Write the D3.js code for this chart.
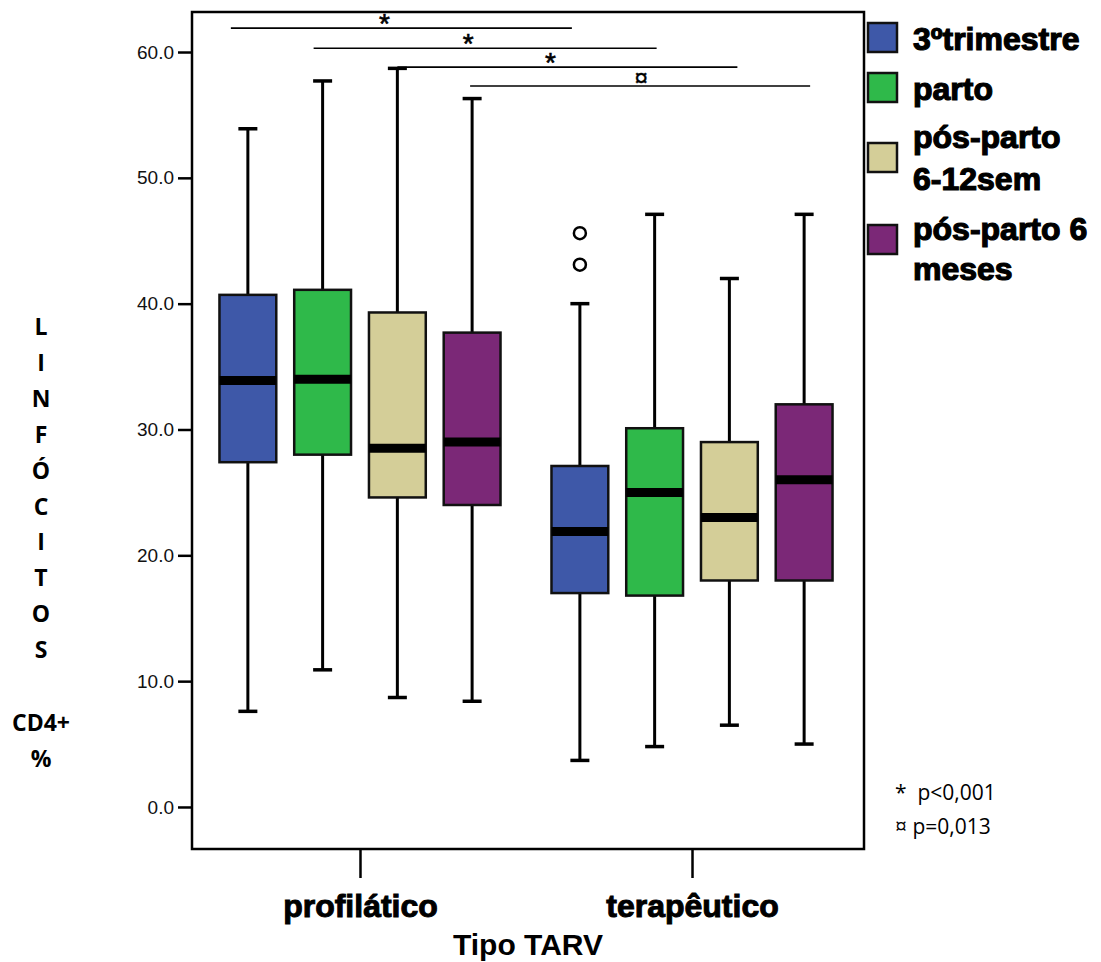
<!DOCTYPE html>
<html>
<head>
<meta charset="utf-8">
<script src="https://cdn.jsdelivr.net/npm/d3@7"></script>
<style>
  body { margin: 0; background: #fff; }
  svg { display: block; }
</style>
</head>
<body>
<svg id="chart" width="1101" height="962"></svg>
<script>
// data
const groups = ['profilático', 'terapêutico']
const series = ['3ºtrimestre', 'parto', 'pós-parto 6-12sem', 'pós-parto 6 meses']
const legendLines = [['3ºtrimestre'], ['parto'], ['pós-parto', '6-12sem'], ['pós-parto 6', 'meses']]
const colors = ['#3e58a8', '#2fb94a', '#d4ce98', '#7b2877']

// one row per group, one value per series
const whiskerLow = [[7.6, 10.9, 8.7, 8.4], [3.7, 4.8, 6.5, 5.0]]
const q1 = [[27.4, 28.0, 24.6, 24.0], [17.0, 16.8, 18.0, 18.0]]
const median = [[33.9, 34.0, 28.5, 29.0], [21.9, 25.0, 23.0, 26.0]]
const q3 = [[40.7, 41.1, 39.3, 37.7], [27.1, 30.1, 29.0, 32.0]]
const whiskerHigh = [[53.9, 57.7, 58.7, 56.3], [40.0, 47.1, 42.0, 47.1]]
const outliers = [
  { group: 'terapêutico', series: '3ºtrimestre', value: 45.6 },
  { group: 'terapêutico', series: '3ºtrimestre', value: 43.1 },
]
const yTicks = [0, 10, 20, 30, 40, 50, 60]
// significance brackets: series compared between groups, level in y units
const compSeries = ['3ºtrimestre', 'parto', 'pós-parto 6-12sem', 'pós-parto 6 meses']
const compLevel = [61.9, 60.3, 58.8, 57.3]
const compMark = ['*', '*', '*', '¤']
const footnotes = ['*  p<0,001', '¤ p=0,013']
const yLabelLetters = ['L', 'I', 'N', 'F', 'Ó', 'C', 'I', 'T', 'O', 'S']

const svg = d3.select('#chart')
const plot = { left: 192, right: 864, top: 12, bottom: 849 }

const y = d3.scaleLinear().domain([-3.34, 63.18]).range([plot.bottom, plot.top])
const x = d3.scalePoint().domain(groups).range([plot.left - 2, plot.right - 2]).padding(0.512)
const xs = d3.scaleBand().domain(series).range([-149.5, 149.5]).paddingInner(0.24).paddingOuter(0.12)
const color = d3.scaleOrdinal().domain(series).range(colors)

let boxes = []
groups.forEach(function(g, gi) {
  series.forEach(function(s, si) {
    boxes.push({
      group: g, series: s,
      lo: whiskerLow[gi][si], q1: q1[gi][si], med: median[gi][si],
      q3: q3[gi][si], hi: whiskerHigh[gi][si],
    })
  })
})
const cx = function(d) { return x(d.group) + xs(d.series) + xs.bandwidth() / 2 }

// y axis
const yAxis = svg.append('g')
  .attr('transform', 'translate(' + plot.left + ',0)')
  .call(d3.axisLeft(y).tickValues(yTicks).tickSize(14).tickPadding(4).tickFormat(d3.format('.1f')))
yAxis.select('.domain').remove()
yAxis.selectAll('line').attr('stroke', '#000').attr('stroke-width', 2.5)
yAxis.selectAll('text')
  .style('font-family', 'Liberation Sans, Arial, sans-serif')
  .style('font-size', '19px')
  .attr('fill', '#111')

// x axis ticks below frame
const xAxis = svg.append('g')
  .attr('transform', 'translate(0,' + plot.bottom + ')')
  .call(d3.axisBottom(x).tickSize(29).tickPadding(16))
xAxis.select('.domain').remove()
xAxis.selectAll('line').attr('stroke', '#000').attr('stroke-width', 2.5)
xAxis.selectAll('text')
  .style('font-family', 'Liberation Sans, Arial, sans-serif')
  .style('font-size', '32px')
  .style('font-weight', 'bold')
  .attr('fill', '#000')
  .attr('stroke', '#000')
  .attr('stroke-width', 1)

// whiskers
const wg = svg.append('g').attr('class', 'whiskers')
wg.selectAll('line.stem')
  .data(boxes)
  .enter()
  .append('line')
  .attr('x1', cx).attr('x2', cx)
  .attr('y1', function(d) { return y(d.lo) })
  .attr('y2', function(d) { return y(d.hi) })
  .attr('stroke', '#000').attr('stroke-width', 3)
;['lo', 'hi'].forEach(function(k) {
  wg.selectAll('line.cap-' + k)
    .data(boxes)
    .enter()
    .append('line')
    .attr('x1', function(d) { return cx(d) - 9.5 })
    .attr('x2', function(d) { return cx(d) + 9.5 })
    .attr('y1', function(d) { return y(d[k]) })
    .attr('y2', function(d) { return y(d[k]) })
    .attr('stroke', '#000').attr('stroke-width', 3.5)
})

// boxes
const bg = svg.append('g').attr('class', 'boxes')
bg.selectAll('rect')
  .data(boxes)
  .enter()
  .append('rect')
  .attr('x', function(d) { return cx(d) - xs.bandwidth() / 2 })
  .attr('width', xs.bandwidth())
  .attr('y', function(d) { return y(d.q3) })
  .attr('height', function(d) { return y(d.q1) - y(d.q3) })
  .attr('fill', function(d) { return color(d.series) })
  .attr('stroke', '#111')
  .attr('stroke-width', 2.5)
bg.selectAll('line.median')
  .data(boxes)
  .enter()
  .append('line')
  .attr('x1', function(d) { return cx(d) - xs.bandwidth() / 2 })
  .attr('x2', function(d) { return cx(d) + xs.bandwidth() / 2 })
  .attr('y1', function(d) { return y(d.med) })
  .attr('y2', function(d) { return y(d.med) })
  .attr('stroke', '#000').attr('stroke-width', 9)

// outliers
svg.append('g').selectAll('circle')
  .data(outliers)
  .enter()
  .append('circle')
  .attr('cx', function(d) { return x(d.group) + xs(d.series) + xs.bandwidth() / 2 })
  .attr('cy', function(d) { return y(d.value) })
  .attr('r', 6)
  .attr('fill', '#fff')
  .attr('stroke', '#000')
  .attr('stroke-width', 2.5)

// significance lines (hand-drawn in the original, small nudges per line)
const nudgeStart = [-17, -9, 0, -2]
const nudgeEnd = [-8, 2, 8, 6]
const sg = svg.append('g').attr('class', 'sig')
compSeries.forEach(function(s, i) {
  let x1 = x(groups[0]) + xs(s) + xs.bandwidth() / 2 + nudgeStart[i]
  let x2 = x(groups[1]) + xs(s) + xs.bandwidth() / 2 + nudgeEnd[i]
  let ly = y(compLevel[i])
  sg.append('line')
    .attr('x1', x1).attr('x2', x2)
    .attr('y1', ly).attr('y2', ly)
    .attr('stroke', '#000').attr('stroke-width', 1.6)
  let star = compMark[i] === '*'
  sg.append('text')
    .attr('x', (x1 + x2) / 2 + (star ? -17 : 1))
    .attr('y', ly + (star ? 5 : 0))
    .attr('text-anchor', 'middle')
    .style('font-family', 'Liberation Sans, Arial, sans-serif')
    .style('font-size', star ? '28px' : '24px')
    .attr('stroke', '#000')
    .attr('stroke-width', star ? 0.6 : 0.4)
    .text(compMark[i])
})

// frame
svg.append('rect')
  .attr('x', plot.left).attr('y', plot.top)
  .attr('width', plot.right - plot.left)
  .attr('height', plot.bottom - plot.top)
  .attr('fill', 'none')
  .attr('stroke', '#000')
  .attr('stroke-width', 2.5)

// x title
svg.append('text')
  .attr('x', 528).attr('y', 955)
  .attr('text-anchor', 'middle')
  .style('font-family', 'Liberation Sans, Arial, sans-serif')
  .style('font-size', '30px')
  .style('font-weight', 'bold')
  .text('Tipo TARV')

// y title, stacked letters
const yl = svg.append('g')
  .style('font-family', 'Open Sans, Noto Sans, sans-serif')
  .style('font-size', '23px')
  .style('font-weight', 'bold')
  .attr('text-anchor', 'middle')
yl.selectAll('text.letter')
  .data(yLabelLetters)
  .enter()
  .append('text')
  .attr('x', 41)
  .attr('y', function(d, i) { return 335 + i * 35.9 })
  .text(function(d) { return d })
yl.append('text').attr('x', 41).attr('y', 731).text('CD4+')
yl.append('text').attr('x', 41).attr('y', 767).text('%')

// legend
const lg = svg.append('g').attr('class', 'legend')
const legendTop = [23, 73, 143, 225]
const legendBase = [[50], [100], [148, 190], [240, 280]]
series.forEach(function(s, i) {
  lg.append('rect')
    .attr('x', 868).attr('y', legendTop[i])
    .attr('width', 29).attr('height', 29)
    .attr('fill', color(s))
    .attr('stroke', '#111').attr('stroke-width', 2.5)
  legendLines[i].forEach(function(t, j) {
    lg.append('text')
      .attr('x', 913).attr('y', legendBase[i][j])
      .style('font-family', 'Liberation Sans, Arial, sans-serif')
      .style('font-size', '32px')
      .style('font-weight', 'bold')
      .attr('stroke', '#000').attr('stroke-width', 1.2)
      .text(t)
  })
})

// footnotes
svg.append('g').selectAll('text')
  .data(footnotes)
  .enter()
  .append('text')
  .attr('x', 895)
  .attr('y', function(d, i) { return 800 + i * 34 })
  .style('font-family', 'Open Sans, Noto Sans, sans-serif')
  .style('font-size', '21px')
  .style('white-space', 'pre')
  .text(function(d) { return d })
</script>
</body>
</html>
